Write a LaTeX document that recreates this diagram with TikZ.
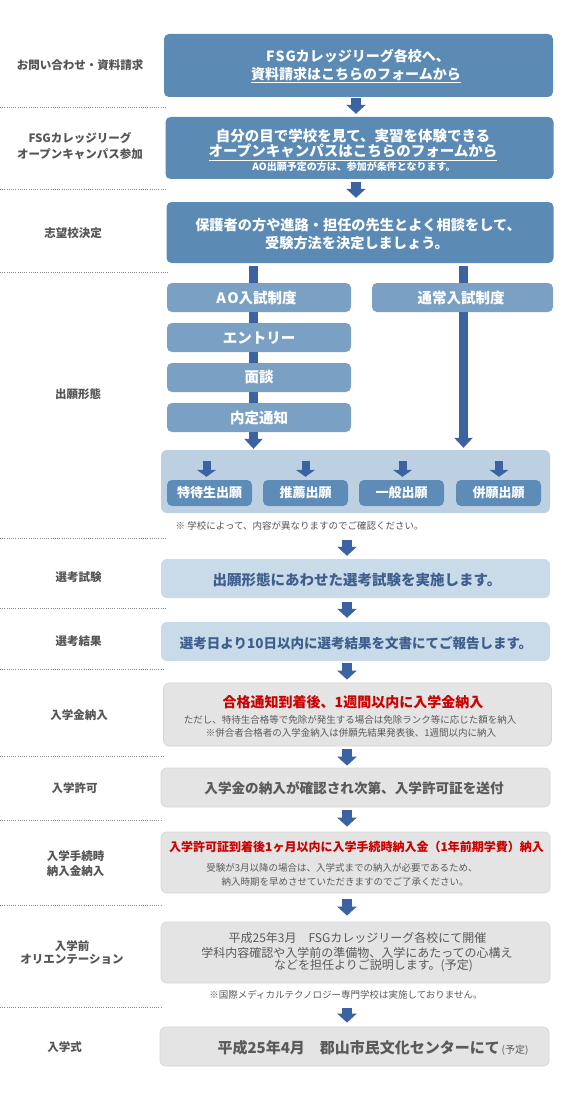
\documentclass[tikz,border=0pt]{standalone}
\usepackage{fontspec}
\setmainfont{Noto Sans CJK JP}
\usetikzlibrary{arrows.meta,calc}
\definecolor{dk}{HTML}{5B8AB5}
\definecolor{md}{HTML}{7AA1C4}
\definecolor{grp}{HTML}{BDD0E2}
\definecolor{inr}{HTML}{5E8CB8}
\definecolor{arr}{HTML}{3B62A1}
\definecolor{lt}{HTML}{C9DAE8}
\definecolor{ltx}{HTML}{3E5E8E}
\definecolor{gy}{HTML}{E4E4E4}
\definecolor{gyb}{HTML}{D6D6D6}
\definecolor{lblc}{HTML}{555555}
\definecolor{rd}{HTML}{CC0000}
\definecolor{gtx}{HTML}{5A5A5A}
\definecolor{dotc}{HTML}{8A8A8A}
\newcommand\myfs[2]{\fontsize{#1}{#2}\selectfont}
\begin{document}
\begin{tikzpicture}[x=1pt,y=-1pt,
  lbl/.style={inner sep=0pt, text=lblc, align=center, font=\bfseries\myfs{11.5}{16}},
  dotl/.style={draw=dotc, line width=0.8pt, dash pattern=on 0.8pt off 1.4pt},
  dkbox/.style={fill=dk, rounded corners=5pt, inner sep=0pt},
  mdbox/.style={fill=md, rounded corners=5pt, inner sep=0pt, minimum width=184pt, minimum height=29pt},
  grpbox/.style={fill=grp, rounded corners=6pt, inner sep=0pt},
  inbox/.style={fill=inr, rounded corners=5pt, inner sep=0pt, minimum width=85pt, minimum height=26pt},
  ltbox/.style={fill=lt, rounded corners=6pt, inner sep=0pt},
  gybox/.style={fill=gy, draw=gyb, line width=0.8pt, rounded corners=6pt, inner sep=0pt},
  wt/.style={inner sep=0pt, text=white, font=\bfseries\myfs{14}{16}},
  wts/.style={inner sep=0pt, text=white, font=\bfseries\myfs{10}{12}},
  mdt/.style={inner sep=0pt, text=white, font=\bfseries\myfs{14.5}{16}},
  int/.style={inner sep=0pt, text=white, font=\bfseries\myfs{13}{15}},
  smt/.style={inner sep=0pt, text=gtx, font=\myfs{9.5}{11}},
  bigarr/.style={draw=arr, line width=10pt, -{Triangle[width=19pt,length=9pt]}},
  midarr/.style={draw=arr, line width=9pt, -{Triangle[width=18pt,length=10pt]}},
  smarr/.style={draw=arr, line width=8pt, -{Triangle[width=19pt,length=7pt]}},
  barc/.style={draw=arr, line width=9pt}
]
\fill[white] (0,0) rectangle (570,1118);
\useasboundingbox (0,0) rectangle (570,1118);

% column coordinates
\coordinate (xa) at (356,0);
\coordinate (xb) at (347,0);
\coordinate (xl) at (253.5,0);
\coordinate (xr) at (463.5,0);

% left labels
\node[lbl] (l1) at (80,65) {お問い合わせ・資料請求};
\node[lbl] (l2) at (80,146) {FSGカレッジリーグ\\オープンキャンパス参加};
\node[lbl] (l3) at (73,233) {志望校決定};
\node[lbl] (l4) at (78,394) {出願形態};
\node[lbl] (l5) at (78.5,577) {選考試験};
\node[lbl] (l6) at (78.5,641) {選考結果};
\node[lbl] (l7) at (79,715) {入学金納入};
\node[lbl] (l8) at (74.5,788) {入学許可};
\node[lbl, font=\bfseries\myfs{11.5}{15}] (l9) at (75.5,863.5) {入学手続時\\納入金納入};
\node[lbl, font=\bfseries\myfs{11.5}{13.5}] (l10) at (72,952.5) {入学前\\オリエンテーション};
\node[lbl] (l11) at (64.5,1047) {入学式};

% dotted separators
\foreach \yy/\xe in {107/166,189/166,272/168,538/166,608/166,669/164,756/164,820/162,905/162,1007/162}
  \draw[dotl] (0,\yy) -- (\xe,\yy);

% step boxes
\node[dkbox, minimum width=389pt, minimum height=63pt] (b1) at (358.5,65.5) {};
\node[wt] (t1a) at (358,56.5) {F\kern1ptS\kern1ptGカレッジリーグ各校へ、};
\node[wt] (t1b) at (356,75) {\underline{資料請求はこちらのフォームから}};

\node[dkbox, minimum width=388pt, minimum height=62pt] (b2) at (359.5,148) {};
\node[wt, font=\bfseries\myfs{14.5}{16}] (t2a) at (353,136) {自分の目で学校を見て、実習を体験できる};
\node[wt, font=\bfseries\myfs{14.5}{16}] (t2b) at (353,152.5) {\underline{オープンキャンパスはこちらのフォームから}};
\node[wts] (t2c) at (354,167) {AO出願予定の方は、参加が条件となります。};

\node[dkbox, minimum width=387pt, minimum height=61pt] (b3) at (360,232.5) {};
\node[wt, font=\bfseries\myfs{14.2}{16}] (t3a) at (358,225) {保護者の方や進路・担任の先生とよく相談をして、};
\node[wt, font=\bfseries\myfs{14.2}{16}] (t3b) at (357,243) {受験方法を決定しましょう。};

% admission routes
\node[mdbox] (ao) at (259,297.5) {};
\node[mdt] (aot) at (256.5,298) {A\kern1.5ptO入試制度};
\node[mdbox, minimum width=181pt] (ts) at (462.5,297.5) {};
\node[mdt] (tst) at (461,298) {通常入試制度};
\node[mdbox] (en) at (259,337.5) {};
\node[mdt] (ent) at (259,338) {エントリー};
\node[mdbox] (me) at (259,377.5) {};
\node[mdt] (met) at (259,377.5) {面談};
\node[mdbox] (nt) at (259,417.5) {};
\node[mdt] (ntt) at (259,418) {内定通知};

% application types group
\node[grpbox, minimum width=389pt, minimum height=63pt] (grp) at (355.5,481.5) {};
\node[inbox] (tk) at (209.5,493) {};
\node[int] (tkt) at (209.5,493) {特待生出願};
\node[inbox] (ss) at (305.5,493) {};
\node[int] (sst) at (305.5,493) {推薦出願};
\node[inbox] (ip) at (401.5,493) {};
\node[int] (ipt) at (401.5,493) {一般出願};
\node[inbox] (hg) at (498.5,493) {};
\node[int] (hgt) at (498.5,493) {併願出願};
\node[smt, anchor=west, text=lblc] (n1) at (175.5,526) {※ 学校によって、内容が異なりますのでご確認ください。};

% selection
\node[ltbox, minimum width=389pt, minimum height=39pt] (s1) at (355.5,578.5) {};
\node[inner sep=0pt, text=ltx, font=\bfseries\myfs{14.5}{16}] (s1t) at (357,580) {出願形態にあわせた選考試験を実施します。};
\node[ltbox, minimum width=389pt, minimum height=39pt] (s2) at (355.5,641.5) {};
\node[inner sep=0pt, text=ltx, font=\bfseries\myfs{13.5}{16}] (s2t) at (356,643) {選考日より10日以内に選考結果を文書にてご報告します。};

% gray steps
\node[gybox, minimum width=388pt, minimum height=63pt] (g1) at (357.5,714.5) {};
\node[inner sep=0pt, text=rd, font=\bfseries\myfs{14}{16}] (g1a) at (353,702) {合格通知到着後、1週間以内に入学金納入};
\node[smt] (g1b) at (350,720) {ただし、特待生合格等で免除が発生する場合は免除ランク等に応じた額を納入};
\node[smt] (g1c) at (351,733) {※併合者合格者の入学金納入は併願先結果発表後、1週間以内に納入};

\node[gybox, minimum width=389pt, minimum height=39pt] (g2) at (355.5,787.5) {};
\node[inner sep=0pt, text=gtx, font=\bfseries\myfs{13.6}{16}] (g2t) at (354,788) {入学金の納入が確認され次第、入学許可証を送付};

\node[gybox, minimum width=389pt, minimum height=61pt] (g3) at (355.5,862.5) {};
\node[inner sep=0pt, text=rd, font=\bfseries\myfs{12}{14}] (g3a) at (356.5,847) {入学許可証到着後1ヶ月以内に入学手続時納入金（1年前期学費）納入};
\node[smt] (g3b) at (342,868) {受験が3月以降の場合は、入学式までの納入が必要であるため、};
\node[smt] (g3c) at (345,882) {納入時期を早めさせていただきますのでご了承ください。};

\node[gybox, minimum width=389pt, minimum height=61pt] (g4) at (355.5,952.5) {};
\node[inner sep=0pt, text=gtx, font=\myfs{12}{14}] (g4a) at (357.5,938) {平成25年3月　FSGカレッジリーグ各校にて開催};
\node[inner sep=0pt, text=gtx, font=\myfs{12}{14}] (g4b) at (357,953) {学科内容確認や入学前の準備物、入学にあたっての心構え};
\node[inner sep=0pt, text=gtx, font=\myfs{12}{14}] (g4c) at (373.5,966) {などを担任よりご説明します。(予定)};
\node[smt] (n2) at (346,995) {※国際メディカルテクノロジー専門学校は実施しておりません。};

\node[gybox, minimum width=389pt, minimum height=39pt] (g5) at (354.5,1046.5) {};
\node[inner sep=0pt, text=gtx, font=\bfseries\myfs{15}{17}] (g5t) at (373,1048) {平成25年4月　郡山市民文化センターにて{\mdseries\myfs{10}{12}\,(予定)}};

% connectors
\draw[bigarr] ($(b1.south -| xa)+(0,1)$) -- ($(b2.north -| xa)+(0,-3)$);
\draw[bigarr] ($(b2.south -| xa)+(0,3)$) -- ($(b3.north -| xa)+(0,-4)$);

\draw[barc] ($(b3.south -| xl)+(0,3)$) -- (ao.north -| xl);
\draw[barc] (ao.south -| xl) -- (en.north -| xl);
\draw[barc] (en.south -| xl) -- (me.north -| xl);
\draw[barc] (me.south -| xl) -- (nt.north -| xl);
\draw[midarr] (nt.south -| xl) -- ($(grp.north -| xl)+(0,-1)$);
\draw[barc] ($(b3.south -| xr)+(0,3)$) -- (ts.north -| xr);
\draw[midarr] (ts.south -| xr) -- ($(grp.north -| xr)+(0,-2)$);

\coordinate (tkA) at ($(tk.north)+(-3,-19)$);
\coordinate (ssA) at ($(ss.north)+(0,-19)$);
\coordinate (ipA) at ($(ip.north)+(1,-19)$);
\coordinate (hgA) at ($(hg.north)+(0.5,-19)$);
\draw[smarr] (tkA) -- ($(tk.north)+(-3,-3)$);
\draw[smarr] (ssA) -- ($(ss.north)+(0,-3)$);
\draw[smarr] (ipA) -- ($(ip.north)+(1,-3)$);
\draw[smarr] (hgA) -- ($(hg.north)+(0.5,-3)$);

\coordinate (gA) at ($(grp.south -| xb)+(0,27)$);
\draw[bigarr] (gA) -- ($(s1.north -| xb)+(0,-3)$);
\draw[bigarr] ($(s1.south -| xb)+(0,4)$) -- ($(s2.north -| xb)+(0,-4)$);
\draw[bigarr] ($(s2.south -| xb)+(0,2)$) -- ($(g1.north -| xb)+(0,-3)$);
\draw[bigarr] ($(g1.south -| xb)+(0,3)$) -- ($(g2.north -| xb)+(0,-2)$);
\draw[bigarr] ($(g2.south -| xb)+(0,3)$) -- ($(g3.north -| xb)+(0,-5)$);
\draw[bigarr] ($(g3.south -| xb)+(0,6)$) -- ($(g4.north -| xb)+(0,-6)$);
\coordinate (oA) at ($(g4.south -| xb)+(0,25)$);
\draw[bigarr] (oA) -- ($(g5.north -| xb)+(0,-4)$);
\end{tikzpicture}
\end{document}
